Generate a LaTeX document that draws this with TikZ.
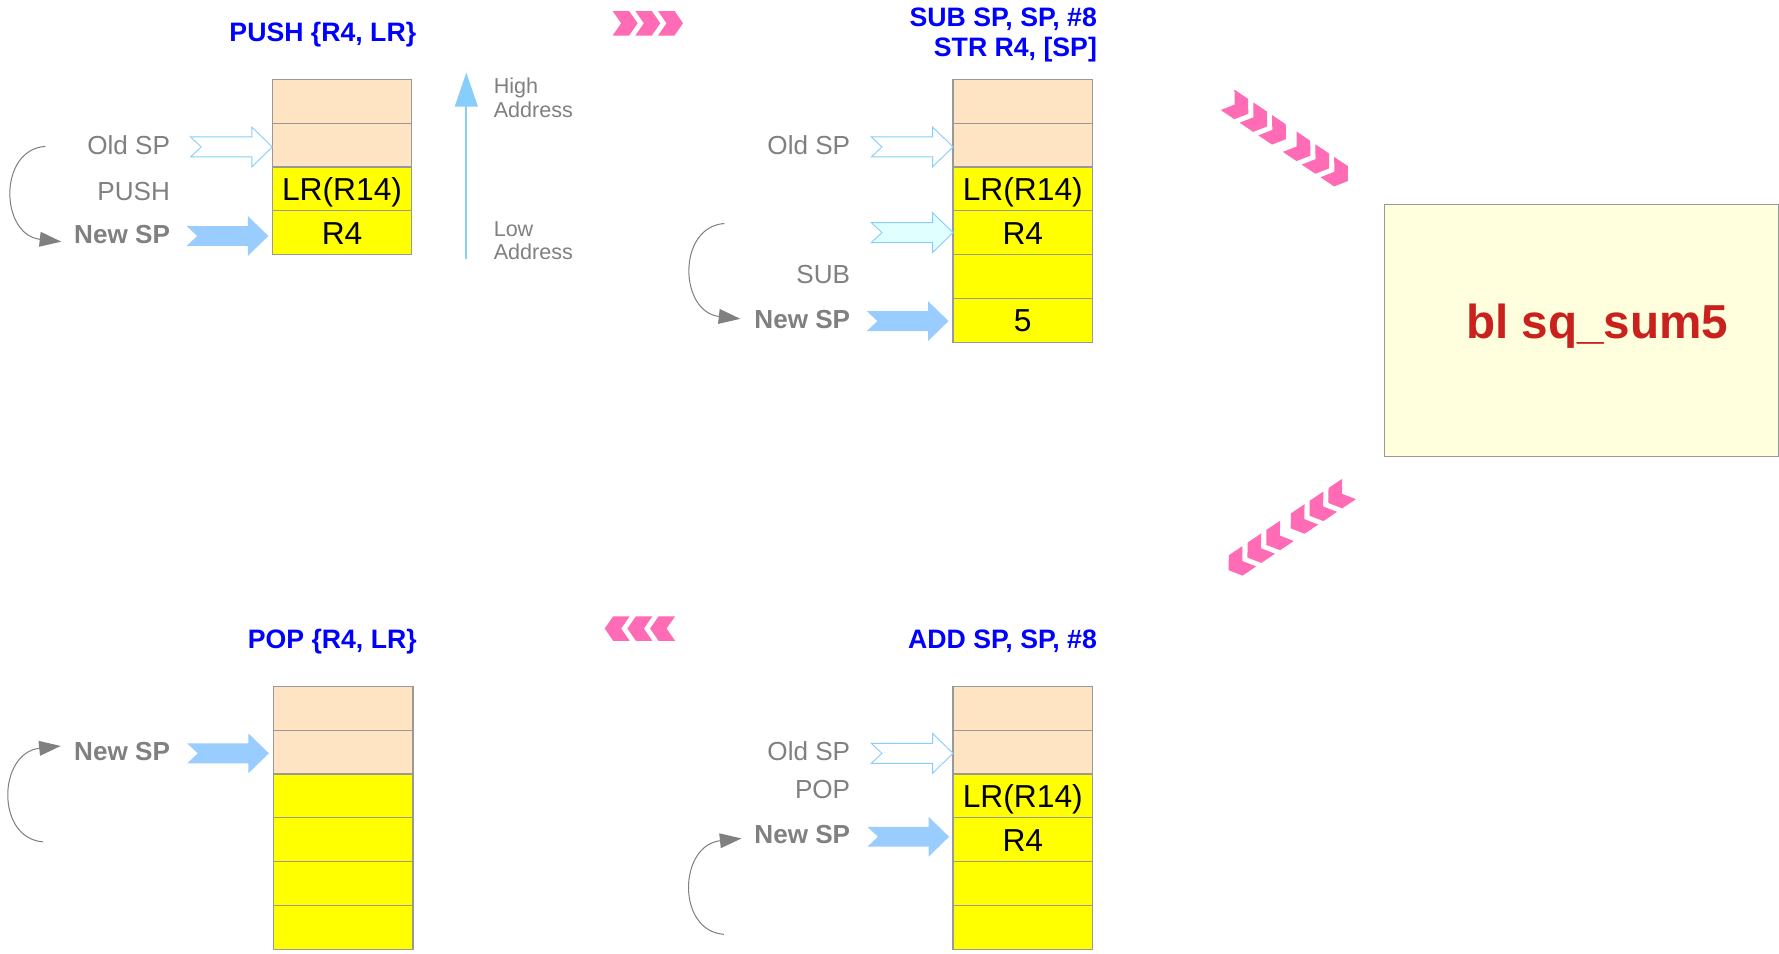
\documentclass[tikz,border=0pt]{standalone}
\usepackage{fontspec}
\setmainfont{Liberation Sans}
\usetikzlibrary{arrows.meta}
\definecolor{peach}{HTML}{FFE4C4}
\definecolor{cellyellow}{HTML}{FFFF00}
\definecolor{cellborder}{HTML}{999999}
\definecolor{txtgray}{HTML}{808080}
\definecolor{titleblue}{HTML}{0000FF}
\definecolor{arrowblue}{HTML}{99CCFF}
\definecolor{outlineblue}{HTML}{87CEFA}
\definecolor{palecyan}{HTML}{E0FFFF}
\definecolor{chevpink}{HTML}{FF6CB5}
\definecolor{boxyellow}{HTML}{FFFFDD}
\definecolor{funcred}{HTML}{C9211E}

\tikzset{
  cell/.style={draw=cellborder, line width=1pt, minimum width=123pt, minimum height=38.6pt,
    inner sep=0pt, text height=20pt, text depth=0pt, font=\fontsize{28}{30}\selectfont, text=black},
  peachcell/.style={cell, fill=peach},
  yelcell/.style={cell, fill=cellyellow},
  lbl/.style={inner sep=0pt, anchor=base east, text=txtgray, font=\fontsize{23}{26}\selectfont},
  boldlbl/.style={inner sep=0pt, anchor=base east, text=txtgray, font=\fontsize{23}{26}\selectfont\bfseries},
  title/.style={inner sep=0pt, anchor=base east, text=titleblue, font=\fontsize{23.5}{26}\selectfont\bfseries},
  addr/.style={inner sep=0pt, anchor=base west, text=txtgray, font=\fontsize{19}{21}\selectfont},
  newsp/.style={fill=arrowblue},
  oldsp/.style={draw=outlineblue, fill=white, line width=0.8pt},
  midsp/.style={draw=outlineblue, fill=palecyan, line width=0.8pt},
  chevfill/.style={fill=chevpink},
  moveline/.style={draw=txtgray, line width=0.9pt, -{Triangle[length=19pt,width=13pt]}},
  addrarrow/.style={draw=outlineblue, line width=2pt, -{Triangle[length=30pt,width=20pt]}},
}

% block arrow with notched tail, tip at #3
\newcommand\sparrow[3]{%
  \path[#2, shift={#3}] (0pt,0pt) -- (-18pt,17.5pt) -- (-18pt,8.8pt) -- (-72pt,8.8pt)
     -- (-62.7pt,0pt) -- (-72pt,-8.8pt) -- (-18pt,-8.8pt) -- (-18pt,-17.5pt) -- cycle;
  \coordinate (#1) at #3;}

% row of chevrons
\newcommand\chevrow[3]{%
  \begin{scope}[shift={#1}, rotate=#2]
    \foreach \o in {#3}{%
      \fill[chevfill, xshift=\o pt] (0pt,10.8pt) -- (14.5pt,10.8pt) -- (22pt,0pt) -- (14.5pt,-10.8pt)
        -- (0pt,-10.8pt) -- (7.5pt,0pt) -- cycle;}
  \end{scope}}

\begin{document}
\begin{tikzpicture}[x=1pt, y=-1pt]
\useasboundingbox[fill=white] (0,0) rectangle (1568,840);

% ---------- top-left: PUSH ----------
\node[title] (t1) at (367,36.7) {PUSH \{R4, LR\}};
\node[peachcell] (a1) at (301.5,89.3) {};
\node[peachcell] (a2) at (301.5,127.9) {};
\node[yelcell] (a3) at (301.5,166.5) {LR(R14)};
\node[yelcell] (a4) at (301.5,205.1) {R4};
\node[lbl] (aold) at (150,136.6) {Old SP};
\node[lbl] (apush) at (150,176.3) {PUSH};
\node[boldlbl] (anew) at (150,215) {New SP};
\sparrow{aoldarr}{oldsp}{(240,129.5)}
\sparrow{anewarr}{newsp}{(236.5,208)}
\coordinate (acs) at (40,129);
\coordinate (ace) at (54,213);
\draw[moveline] (acs) .. controls (-2,132) and (0,207) .. (ace);

\coordinate (lowaddr) at (411,228);
\coordinate (highaddr) at (411,64);
\draw[addrarrow] (lowaddr) -- (highaddr);
\node[addr] (hi1) at (435,82) {High};
\node[addr] (hi2) at (435,103.5) {Address};
\node[addr] (lo1) at (435,208.5) {Low};
\node[addr] (lo2) at (435,229) {Address};

% ---------- top-right: SUB / STR ----------
\node[title] (t2a) at (967,23.5) {SUB SP, SP, \#8};
\node[title] (t2b) at (967,50) {STR R4, [SP]};
\node[peachcell] (b1) at (901.5,89.3) {};
\node[peachcell] (b2) at (901.5,127.9) {};
\node[yelcell] (b3) at (901.5,166.5) {LR(R14)};
\node[yelcell] (b4) at (901.5,205.1) {R4};
\node[yelcell] (b5) at (901.5,243.7) {};
\node[yelcell] (b6) at (901.5,282.3) {5};
\node[lbl] (bold) at (749.5,136.6) {Old SP};
\node[lbl] (bsub) at (749.5,249.7) {SUB};
\node[boldlbl] (bnew) at (749.5,289.4) {New SP};
\sparrow{boldarr}{oldsp}{(840,129.5)}
\sparrow{bmidarr}{midsp}{(840,205)}
\sparrow{bnewarr}{newsp}{(836,283)}
\coordinate (bcs) at (638.5,197);
\coordinate (bce) at (652.5,281);
\draw[moveline] (bcs) .. controls (596.5,200) and (598.5,275) .. (bce);

% ---------- call box ----------
\node[draw=cellborder, fill=boxyellow, line width=1pt, inner sep=0pt,
      minimum width=347.5pt, minimum height=222pt] (callbox) at (1393.75,291) {};
\node[inner sep=0pt, anchor=base west, text=funcred, font=\fontsize{42}{46}\selectfont\bfseries]
   (call) at (1292,298) {bl sq\_sum5};

% ---------- bottom-left: POP ----------
\node[title] (t4) at (367.5,571.4) {POP \{R4, LR\}};
\node[peachcell] (d1) at (302.5,624.3) {};
\node[peachcell] (d2) at (302.5,662.9) {};
\node[yelcell] (d3) at (302.5,701.5) {};
\node[yelcell] (d4) at (302.5,740.1) {};
\node[yelcell] (d5) at (302.5,778.7) {};
\node[yelcell] (d6) at (302.5,817.3) {};
\node[boldlbl] (dnew) at (150,670) {New SP};
\sparrow{dnewarr}{newsp}{(237,664)}
\coordinate (dcs) at (38,742);
\coordinate (dce) at (53.5,657.5);
\draw[moveline] (dcs) .. controls (-4,739) and (-2,663.5) .. (dce);

% ---------- bottom-right: ADD ----------
\node[title] (t3) at (967,571.4) {ADD SP, SP, \#8};
\node[peachcell] (c1) at (901.5,624.3) {};
\node[peachcell] (c2) at (901.5,662.9) {};
\node[yelcell] (c3) at (901.5,701.5) {LR(R14)};
\node[yelcell] (c4) at (901.5,740.1) {R4};
\node[yelcell] (c5) at (901.5,778.7) {};
\node[yelcell] (c6) at (901.5,817.3) {};
\node[lbl] (cold) at (749.5,670.7) {Old SP};
\node[lbl] (cpop) at (749.5,704.2) {POP};
\node[boldlbl] (cnew) at (749.5,743.3) {New SP};
\sparrow{coldarr}{oldsp}{(840,664)}
\sparrow{cnewarr}{newsp}{(836.5,737.5)}
\coordinate (ccs) at (638,823.5);
\coordinate (cce) at (653.5,739);
\draw[moveline] (ccs) .. controls (596,820.5) and (598,745) .. (cce);

% ---------- chevrons ----------
\chevrow{(540,20.5)}{0}{0,20,40}
\chevrow{(1082,88)}{-34}{0,20,40,66,86,106}
\chevrow{(1189,431)}{-146}{0,20,40,66,86,106}
\chevrow{(595,554)}{180}{0,20,40}
\end{tikzpicture}
\end{document}
